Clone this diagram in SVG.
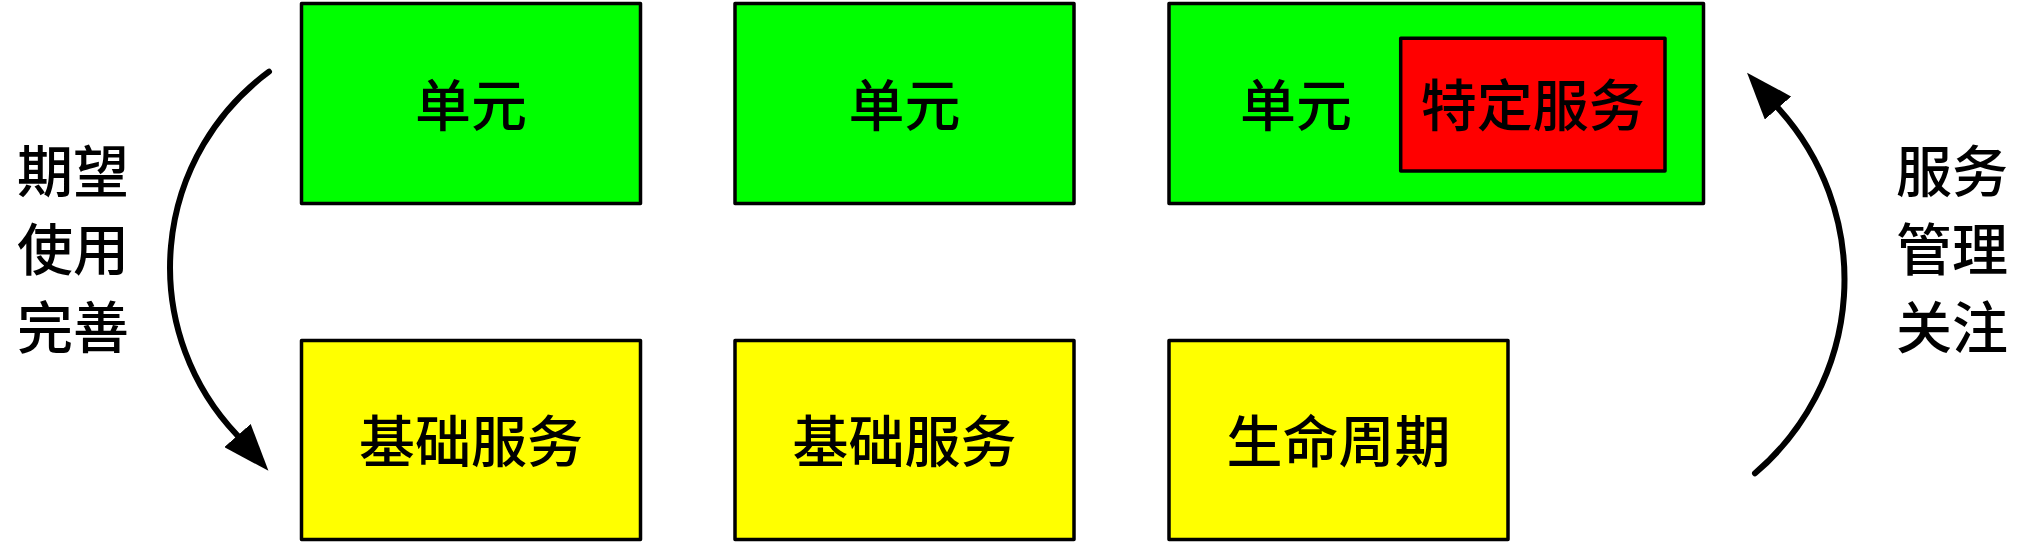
<svg xmlns="http://www.w3.org/2000/svg" width="2026" height="544" viewBox="0 0 2026 544">
<style>
.box{stroke:#000;stroke-width:3.5;stroke-linejoin:round}
.unit{fill:#00ff00}
.svc{fill:#ffff00}
.spec{fill:#ff0000}
text{font-family:"Noto Sans CJK SC","Noto Sans CJK TC",sans-serif;font-size:56px;font-weight:500;fill:#000;text-anchor:middle}
.conn{fill:none;stroke:#000;stroke-width:6;stroke-linecap:round}
</style>
<defs>
<marker id="arrow" markerUnits="userSpaceOnUse" viewBox="0 0 47 35" markerWidth="47" markerHeight="35" refX="0" refY="17.5" orient="auto">
<path d="M0,0 L47,17.5 L0,35 Z" fill="#000"/>
</marker>
</defs>
<g id="unit1"><rect class="box unit" x="301.5" y="3.5" width="339" height="200"/><text x="471" y="125.5">单元</text></g>
<g id="unit2"><rect class="box unit" x="735" y="3.5" width="339" height="200"/><text x="904.5" y="125.5">单元</text></g>
<g id="unit3"><rect class="box unit" x="1169" y="3.5" width="534.5" height="200"/><text x="1296" y="125.5">单元</text></g>
<g id="specific"><rect class="box spec" x="1400.7" y="38.3" width="264.3" height="132.7"/><text x="1532.8" y="125.5">特定服务</text></g>
<g id="base1"><rect class="box svc" x="301.5" y="340.5" width="339" height="199"/><text x="471" y="461.5">基础服务</text></g>
<g id="base2"><rect class="box svc" x="735" y="340.5" width="339" height="199"/><text x="904.5" y="461.5">基础服务</text></g>
<g id="lifecycle"><rect class="box svc" x="1169" y="340.5" width="339" height="199"/><text x="1338.5" y="461.5">生命周期</text></g>
<g id="label-left"><text x="73" y="191.5">期望</text><text x="73" y="269.5">使用</text><text x="73" y="347.5">完善</text></g>
<g id="label-right"><text x="1952" y="191.5">服务</text><text x="1952" y="269.5">管理</text><text x="1952" y="347.5">关注</text></g>
<g id="connectors">
<path class="conn" d="M269,71.7 A243,243 0 0 0 236.8,434.7 L237.5,435.5" marker-end="url(#arrow)"/>
<path class="conn" d="M1755,473.3 A254.5,254.5 0 0 0 1778.7,108.8 L1778,108" marker-end="url(#arrow)"/>
</g>
</svg>
